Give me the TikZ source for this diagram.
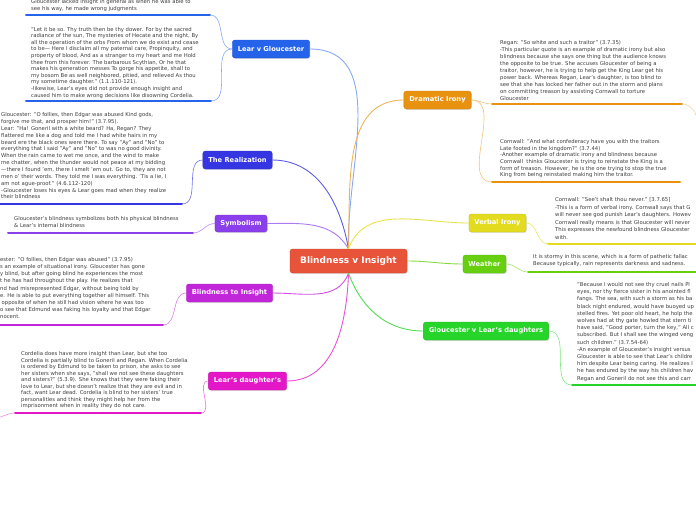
\documentclass[tikz,border=0pt]{standalone}
\usepackage{fontspec}
\setmainfont{DejaVu Sans}
\usepackage{tikz}
\usetikzlibrary{shadows}

\definecolor{rootred}{HTML}{E8543A}
\definecolor{learblue}{HTML}{2563EB}
\definecolor{realblue}{HTML}{3535E2}
\definecolor{symbpurple}{HTML}{8A3FEA}
\definecolor{btimag}{HTML}{C226DA}
\definecolor{ldaupink}{HTML}{E316C8}
\definecolor{dramorange}{HTML}{E8920F}
\definecolor{verbyellow}{HTML}{E3DC1E}
\definecolor{weatgreen}{HTML}{66D010}
\definecolor{glougreen}{HTML}{27D52A}
\definecolor{notegray}{HTML}{3C3C3C}

\begin{document}
\begin{tikzpicture}[x=1pt, y=1pt,
    topic/.style={rectangle, rounded corners=2.5pt, fill=#1, draw=#1!85!black,
        line width=0.3pt, text=white, inner xsep=5.5pt, inner ysep=0pt,
        minimum height=18pt, font=\fontsize{6.7}{8}\selectfont\bfseries,
        drop shadow={shadow xshift=0.7pt, shadow yshift=-0.9pt, opacity=0.25}},
    note/.style={anchor=north west, align=left, inner sep=0pt, text=notegray,
        font=\fontsize{5.3}{#1}\selectfont},
    note/.default=6.7,
    branch/.style={line width=0.9pt, draw=#1},
    stem/.style={line width=0.6pt, draw=#1},
    noteline/.style={line width=2pt, draw=#1, line cap=round}
]
    \useasboundingbox (0,0) rectangle (696,-520);
    \clip (0,0) rectangle (696,-520);

    % Central topic
    \node[topic=rootred, minimum width=117pt, minimum height=24pt,
        font=\fontsize{9}{11}\selectfont\bfseries] (root) at (348.5,-261) {Blindness v Insight};

    % Left topics
    \node[topic=learblue] (lear) at (271,-49) {Lear v Gloucester};
    \node[topic=realblue] (real) at (237.5,-160) {The Realization};
    \node[topic=symbpurple, minimum height=17pt] (symb) at (241,-223.5) {Symbolism};
    \node[topic=btimag] (bti) at (229.5,-293) {Blindness to Insight};
    \node[topic=ldaupink] (ldau) at (247.5,-381) {Lear's daughter's};

    % Right topics
    \node[topic=dramorange] (dram) at (437.5,-100) {Dramatic Irony};
    \node[topic=verbyellow] (verb) at (497.5,-223) {Verbal Irony};
    \node[topic=weatgreen] (weat) at (484.5,-264) {Weather};
    \node[topic=glougreen] (glou) at (486,-331) {Gloucester v Lear's daughters};

    % Branches from the central topic
    \draw[branch=learblue!55] (root.north) to[out=92, in=0] (lear.east);
    \draw[branch=realblue!80] (root.north) to[out=100, in=0] (real.east);
    \draw[branch=symbpurple!70] (root.north) to[out=120, in=0] (symb.east);
    \draw[branch=btimag!80] (root.south) to[out=-110, in=0] (bti.east);
    \draw[branch=ldaupink!75] (root.south) to[out=-92, in=0] (ldau.east);
    \draw[branch=dramorange!70] (root.north) to[out=88, in=180] (dram.west);
    \draw[branch=verbyellow!80] (root.north) to[out=70, in=180] (verb.west);
    \draw[branch=weatgreen!80] (root.east) to[out=0, in=180] (weat.west);
    \draw[branch=glougreen!80] (root.south) to[out=-70, in=180] (glou.west);

    % Notes, left side
    \node[note=6.5] (n0) at (31,0.5) {Gloucester lacked insight in general as when he was able to\\
        see his way, he made wrong judgments};
    \node[note=6.6] (nlear) at (31,-26.8) {"Let it be so. Thy truth then be thy dower. For by the sacred\\
        radiance of the sun, The mysteries of Hecate and the night, By\\
        all the operation of the orbs From whom we do exist and cease\\
        to be— Here I disclaim all my paternal care, Propinquity, and\\
        property of blood, And as a stranger to my heart and me Hold\\
        thee from this forever. The barbarous Scythian, Or he that\\
        makes his generation messes To gorge his appetite, shall to\\
        my bosom Be as well neighbored, pitied, and relieved As thou\\
        my sometime daughter." (1.1.110-121).\\
        -likewise, Lear's eyes did not provide enough insight and\\
        caused him to make wrong decisions like disowning Cordelia.};
    \node[note=6.85] (nreal) at (1,-112.5) {Gloucester: "O follies, then Edgar was abused Kind gods,\\
        forgive me that, and prosper him!" (3.7.95).\\
        Lear: "Ha! Goneril with a white beard? Ha, Regan? They\\
        flattered me like a dog and told me I had white hairs in my\\
        beard ere the black ones were there. To say "Ay" and "No" to\\
        everything that I said "Ay" and "No" to was no good divinity.\\
        When the rain came to wet me once, and the wind to make\\
        me chatter, when the thunder would not peace at my bidding\\
        —there I found 'em, there I smelt 'em out. Go to, they are not\\
        men o' their words. They told me I was everything. 'Tis a lie, I\\
        am not ague-proof." (4.6.112-120)\\
        -Gloucester loses his eyes \& Lear goes mad when they realize\\
        their blindness};
    \node[note=6.8] (nsymb) at (14,-216.5) {Gloucester's blindness symbolizes both his physical blindness\\
        \& Lear's internal blindness};
    \node[note=7.2] (nbti) at (0,-257) {ester: "O follies, then Edgar was abused" (3.7.95)\\
        s an example of situational irony. Gloucester has gone\\
        y blind, but after going blind he experiences the most\\
        t he has had throughout the play. He realizes that\\
        nd had misrepresented Edgar, without being told by\\
        e. He is able to put everything together all himself. This\\
        \hspace*{1.5pt}opposite of when he still had vision where he was too\\
        o see that Edmund was faking his loyalty and that Edgar\\
        nocent.};
    \node[note=6.5] (nldau) at (21,-351.5) {Cordelia does have more insight than Lear, but she too\\
        Cordelia is partially blind to Goneril and Regan. When Cordelia\\
        is ordered by Edmund to be taken to prison, she asks to see\\
        her sisters when she says, "shall we not see these daughters\\
        and sisters?" (5.3.9). She knows that they were faking their\\
        love to Lear, but she doesn't realize that they are evil and in\\
        fact, want Lear dead. Cordelia is blind to her sisters' true\\
        personalities and think they might help her from the\\
        imprisonment when in reality they do not care.};

    % Notes, right side
    \node[note=7.1] (ndram1) at (500,-39.8) {Regan: "So white and such a traitor" (3.7.35)\\
        -This particular quote is an example of dramatic irony but also\\
        blindness because she says one thing but the audience knows\\
        the opposite to be true. She accuses Gloucester of being a\\
        traitor, however, he is trying to help get the King Lear get his\\
        power back. Whereas Regan, Lear's daughter, is too blind to\\
        see that she has locked her father out in the storm and plans\\
        on committing treason by assisting Cornwall to torture\\
        Gloucester};
    \node[note=6.7] (ndram2) at (500,-139.2) {Cornwall: "And what confederacy have you with the traitors\\
        Late footed in the kingdom?" (3.7.44)\\
        -Another example of dramatic irony and blindness because\\
        Cornwall\ \ thinks Gloucester is trying to reinstate the King is a\\
        form of treason. However, he is the one trying to stop the true\\
        King from being reinstated making him the traitor.};
    \node[note=7.5] (nverb) at (555,-197.5) {Cornwall: "See't shalt thou never." [3.7.65]\\
        -This is a form of verbal irony. Cornwall says that G\\
        will never see god punish Lear's daughters. Howev\\
        Cornwall really means is that Gloucester will never\\
        This expresses the newfound blindness Gloucester\\
        with.};
    \node[note=6.8] (nweat) at (533,-254.5) {It is stormy in this scene, which is a form of pathetic fallac\\
        Because typically, rain represents darkness and sadness.};
    \node[note=7.2] (nglou) at (577,-282.2) {"Because I would not see thy cruel nails Pl\\
        eyes, nor thy fierce sister in his anointed fl\\
        fangs. The sea, with such a storm as his ba\\
        black night endured, would have buoyed up\\
        stelled fires. Yet poor old heart, he holp the\\
        wolves had at thy gate howled that stern ti\\
        have said, "Good porter, turn the key," All c\\
        subscribed. But I shall see the winged veng\\
        such children." (3.7.54-64)\\
        -An example of Gloucester's insight versus\\
        Gloucester is able to see that Lear's childre\\
        him despite Lear being caring. He realizes l\\
        he has endured by the way his children hav\\
        Regan and Goneril do not see this and carr};

    % Underline ends
    \coordinate (u0l) at (26,-15);   \coordinate (u0r) at (210,-15);
    \coordinate (u1l) at (26,-101);  \coordinate (u1r) at (211,-101);
    \coordinate (u2l) at (0,-204);   \coordinate (u2r) at (182,-204);
    \coordinate (u3l) at (8,-233);   \coordinate (u3r) at (193,-233);
    \coordinate (u4l) at (-2,-325);  \coordinate (u4r) at (163,-325);
    \coordinate (u5l) at (15,-413);  \coordinate (u5r) at (201,-413);
    \coordinate (u6l) at (492,-104); \coordinate (u6r) at (682,-104);
    \coordinate (u7l) at (492,-182); \coordinate (u7r) at (680,-182);
    \coordinate (u8l) at (548,-244); \coordinate (u8r) at (700,-244);
    \coordinate (u9l) at (528,-272); \coordinate (u9r) at (700,-272);
    \coordinate (u10l) at (572,-385); \coordinate (u10r) at (700,-385);
    \coordinate (ldauout) at (-6,-418);
    \coordinate (dramout) at (700,-130);

    % Underlines
    \draw[noteline=learblue] (u0l) -- (u0r);
    \draw[noteline=learblue] (u1l) -- (u1r);
    \draw[noteline=realblue] (u2l) -- (u2r);
    \draw[noteline=symbpurple] (u3l) -- (u3r);
    \draw[noteline=btimag] (u4l) -- (u4r);
    \draw[noteline=ldaupink] (u5l) -- (u5r);
    \draw[noteline=dramorange] (u6l) -- (u6r);
    \draw[noteline=dramorange] (u7l) -- (u7r);
    \draw[noteline=verbyellow] (u8l) -- (u8r);
    \draw[noteline=weatgreen] (u9l) -- (u9r);
    \draw[noteline=glougreen] (u10l) -- (u10r);

    % Stems from topics to notes
    \draw[stem=learblue!55] (lear.west) to[out=180, in=0] (u0r);
    \draw[stem=learblue!55] (lear.west) to[out=180, in=0] (u1r);
    \draw[stem=realblue!70] (real.west) to[out=180, in=0] (u2r);
    \draw[stem=symbpurple!60] (symb.west) to[out=180, in=0] (u3r);
    \draw[stem=btimag!60] (bti.west) to[out=180, in=0] (u4r);
    \draw[stem=ldaupink!60] (ldau.west) to[out=180, in=0] (u5r);
    \draw[stem=ldaupink!50] (u5l) to[out=180, in=0] (ldauout);
    \draw[stem=dramorange!55] (dram.east) to[out=0, in=180] (u6l);
    \draw[stem=dramorange!55] (dram.east) to[out=0, in=180] (u7l);
    \draw[stem=dramorange!40] (u6r) to[out=0, in=100] (dramout);
    \draw[stem=verbyellow!70] (verb.east) to[out=0, in=180] (u8l);
    \draw[stem=weatgreen!60] (weat.east) to[out=0, in=180] (u9l);
    \draw[stem=glougreen!60] (glou.east) to[out=0, in=180] (u10l);
\end{tikzpicture}
\end{document}
